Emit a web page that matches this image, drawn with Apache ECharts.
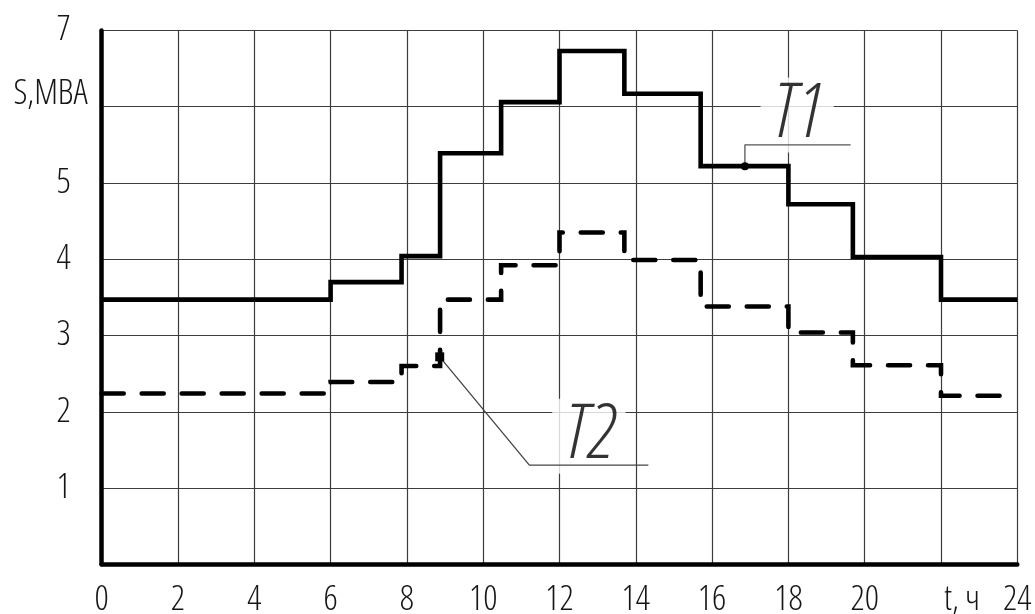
<!DOCTYPE html>
<html>
<head>
<meta charset="utf-8">
<title>S, MBA — t, ч</title>
<script src="https://cdn.jsdelivr.net/npm/echarts@6/dist/echarts.min.js"></script>
<style>
  html, body { margin: 0; padding: 0; background: #fff; }
  #chart { width: 1035px; height: 614px; }
</style>
</head>
<body>
<div id="chart"></div>
<script>
// Hour marks where the load steps change (t, ч)
const hours = [0, 6, 7.86, 8.87, 10.47, 12, 13.7, 15.7, 18, 19.69, 22, 24];
// Load of transformer T1 on each interval, MBA
const loadT1 = [3.47, 3.70, 4.04, 5.39, 6.06, 6.73, 6.17, 5.22, 4.72, 4.03, 3.47];
// Load of transformer T2 on each interval, MBA
const loadT2 = [2.24, 2.39, 2.60, 3.47, 3.92, 4.35, 3.99, 3.38, 3.04, 2.61, 2.21];

// Axis tick values and their captions
const xTicks = [0, 2, 4, 6, 8, 10, 12, 14, 16, 18, 20, 22, 24];
const xTickLabels = ['0', '2', '4', '6', '8', '10', '12', '14', '16', '18', '20', 't, ч', '24'];
const yTicks = [0, 1, 2, 3, 4, 5, 6, 7];
const yTickLabels = ['', '1', '2', '3', '4', '5', 'S,MBA', '7'];

// Callout leaders: anchor on the curve, elbow, end of the shelf (t, S)
const leaderT1 = [[16.86, 5.22], [16.86, 5.50], [19.63, 5.50]];
const leaderT2 = [[8.86, 2.72], [11.21, 1.30], [14.33, 1.30]];
// Callout captions and where they stand (t, S)
const calloutNames = ['T1', 'T2'];
const calloutSpots = [[18.23, 5.89], [12.77, 1.68]];

// Narrow light lettering: the width keyword goes into the style slot of the canvas font shorthand
const FONT = "'Open Sans', 'DejaVu Sans Condensed', sans-serif";
const INK = '#161616';

function stepData(levels) {
  // each level holds from hours[i] until hours[i + 1]
  return hours.map((h, i) => [h, levels[Math.min(i, levels.length - 1)]]);
}

function leaderData(points, symbol, size) {
  return points.map((p, i) => i === 0
    ? { value: p, symbol: symbol, symbolSize: size }
    : { value: p, symbol: 'none' });
}

const labelFont = {
  fontFamily: FONT, fontStyle: 'condensed', fontWeight: 300,
  fontSize: 35, color: INK, lineHeight: 35
};

const chart = echarts.init(document.getElementById('chart'), null, { renderer: 'canvas' });

chart.setOption({
  animation: false,
  backgroundColor: '#fff',
  grid: {
    left: 101.7, right: 17.7, top: 30.4, bottom: 49.7,
    containLabel: false, outerBoundsMode: 'none'
  },
  xAxis: {
    type: 'value',
    min: 0, max: 24, interval: 2,
    axisLine: { show: true, onZero: false, lineStyle: { color: '#000', width: 4.5 } },
    axisTick: { show: false },
    splitLine: { show: true, lineStyle: { color: '#3c3c3c', width: 1.2 } },
    axisLabel: Object.assign({
      margin: 18,
      hideOverlap: false,
      formatter: v => {
        const s = xTickLabels[xTicks.indexOf(v)];
        return v === 22 ? '{u|' + s + '}' : s;
      },
      rich: { u: Object.assign({ padding: [0, 0, 0, 42] }, labelFont) }
    }, labelFont)
  },
  yAxis: {
    type: 'value',
    min: 0, max: 7, interval: 1,
    axisLine: { show: true, onZero: false, lineStyle: { color: '#000', width: 4.5 } },
    axisTick: { show: false },
    splitLine: { show: true, lineStyle: { color: '#3c3c3c', width: 1.2 } },
    axisLabel: Object.assign({
      margin: 14,
      hideOverlap: false,
      formatter: v => {
        const s = yTickLabels[yTicks.indexOf(v)];
        if (!s) return '';
        return v === 6 ? '{u|' + s + '}' : '{d|' + s + '}';
      },
      rich: {
        d: Object.assign({ padding: [0, 17, 0, 0] }, labelFont),
        u: Object.assign({ padding: [0, 0, 26, 0] }, labelFont)
      }
    }, labelFont)
  },
  series: [
    {
      name: 'T1', type: 'line', step: 'end',
      data: stepData(loadT1),
      symbol: 'none', z: 3,
      lineStyle: { color: '#000', width: 4.6, cap: 'butt', join: 'miter' }
    },
    {
      name: 'T2', type: 'line', step: 'end',
      data: stepData(loadT2),
      symbol: 'none', z: 3,
      lineStyle: { color: '#000', width: 4.6, type: [22, 18], cap: 'round', join: 'miter' }
    },
    {
      name: 'leader T1', type: 'line',
      data: leaderData(leaderT1, 'circle', 8),
      z: 4,
      itemStyle: { color: '#000' },
      lineStyle: { color: '#555', width: 1.3 }
    },
    {
      name: 'leader T2', type: 'line',
      data: leaderData(leaderT2, 'rect', 9),
      z: 4,
      itemStyle: { color: '#000' },
      lineStyle: { color: '#444', width: 1.3 }
    },
    {
      name: 'callouts', type: 'scatter',
      data: calloutSpots.map((p, i) => ({ value: p, name: calloutNames[i] })),
      symbolSize: 0, z: 2,
      label: {
        show: true, position: 'inside',
        formatter: p => p.name,
        fontFamily: FONT,
        fontStyle: 'italic semi-condensed', fontWeight: 300,
        fontSize: 76, lineHeight: 62, color: '#000',
        backgroundColor: '#fff',
        padding: [0, 9, 13, 13]
      }
    }
  ]
});
</script>
</body>
</html>
